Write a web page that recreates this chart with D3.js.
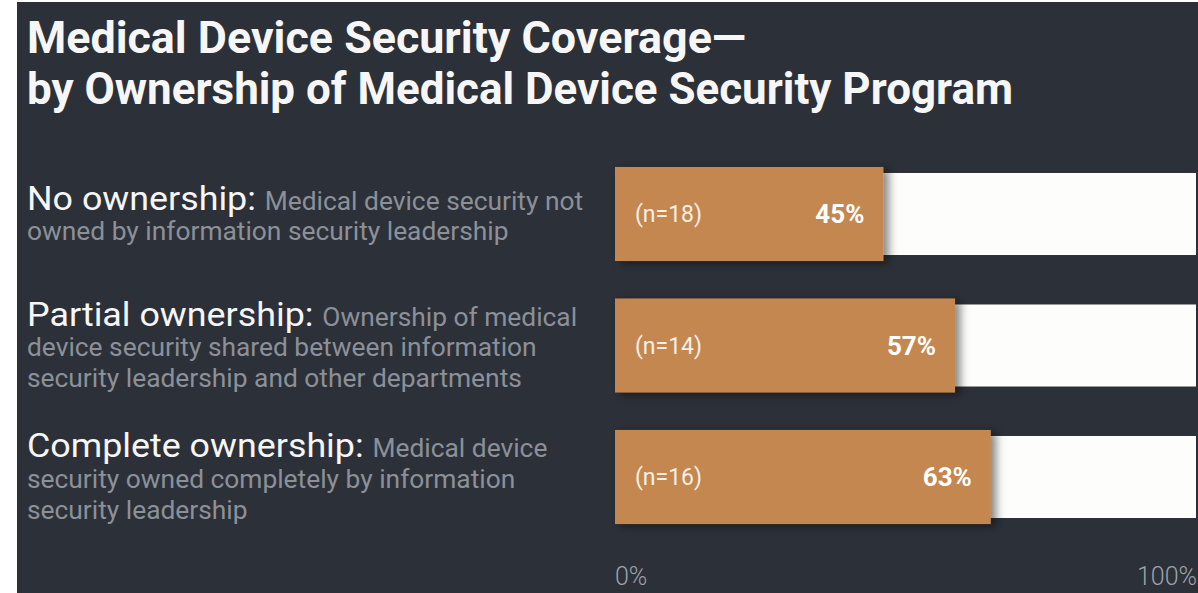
<!DOCTYPE html>
<html>
<head>
<meta charset="utf-8">
<script src="https://cdn.jsdelivr.net/npm/d3@7"></script>
<style>
  html, body { margin: 0; padding: 0; background: #ffffff; }
  svg { display: block; }
</style>
</head>
<body>
<svg id="chart" width="1198" height="593"></svg>
<script>
// Chart content
const titleLines = [
  "Medical Device Security Coverage\u2014",
  "by Ownership of Medical Device Security Program"
];
const categories = ["No ownership:", "Partial ownership:", "Complete ownership:"];
const descriptions = [
  ["Medical device security not", "owned by information security leadership"],
  ["Ownership of medical", "device security shared between information", "security leadership and other departments"],
  ["Medical device", "security owned completely by information", "security leadership"]
];
const coverage = [45, 57, 63];        // percent of devices covered
const sampleSizes = [18, 14, 16];     // respondents per group
const tickLabels = ["0%", "100%"];

const W = 1198, H = 593;
const svg = d3.select("#chart");

const C = {
  bg: "#2c3038",
  bar: "#c4874f",
  track: "#fdfdfc",
  white: "#f6f6f6",
  grey: "#8b9099",
  axis: "#9da2a9",
  barText: "#f7efe6"
};

// Dark panel
svg.append("rect").attr("x", 17).attr("y", 2).attr("width", W - 17).attr("height", H - 2).attr("fill", C.bg);

// Drop shadow for raised bars
const defs = svg.append("defs");
const f = defs.append("filter").attr("id", "raise").attr("x", "-5%").attr("y", "-20%").attr("width", "120%").attr("height", "150%");
f.append("feDropShadow").attr("dx", 5).attr("dy", 2).attr("stdDeviation", 5)
  .attr("flood-color", "#000").attr("flood-opacity", 0.5);

// Title
const title = svg.append("g").attr("font-family", "Roboto, sans-serif").attr("font-weight", 700)
  .attr("font-size", 45).attr("fill", C.white);
const titleWidths = [719, 986];
titleLines.forEach((t, i) => {
  title.append("text").attr("x", 27).attr("y", 53 + i * 51)
    .attr("textLength", titleWidths[i]).attr("lengthAdjust", "spacingAndGlyphs")
    .text(t);
});

// Scales
const x = d3.scaleLinear().domain([0, 100]).range([615, 1211.5]);
const y = d3.scaleBand().domain(categories).range([148.25, 542.75]).paddingInner(0.285).paddingOuter(0.1425);
const trackEnd = W - 2;
const trackInset = 6;

const rows = categories.map((c, i) => ({ cat: c, desc: descriptions[i], v: coverage[i], n: sampleSizes[i] }));

// Tracks (full 0-100 background)
svg.append("g").selectAll("rect").data(rows).join("rect")
  .attr("x", x(0))
  .attr("y", d => y(d.cat) + trackInset)
  .attr("width", trackEnd - x(0))
  .attr("height", y.bandwidth() - 2 * trackInset)
  .attr("fill", C.track);

// Value bars
svg.append("g").selectAll("rect").data(rows).join("rect")
  .attr("x", x(0))
  .attr("y", d => y(d.cat))
  .attr("width", d => x(d.v) - x(0))
  .attr("height", y.bandwidth())
  .attr("fill", C.bar)
  .attr("filter", "url(#raise)");

// In-bar labels
const inBar = svg.append("g").attr("font-family", "Roboto, sans-serif").attr("fill", C.barText);
inBar.selectAll("text.n").data(rows).join("text").attr("class", "n")
  .attr("x", x(0) + 20)
  .attr("y", d => y(d.cat) + y.bandwidth() / 2)
  .attr("dy", "0.35em")
  .attr("font-size", 23)
  .text(d => `(n=${d.n})`);
inBar.selectAll("text.v").data(rows).join("text").attr("class", "v")
  .attr("x", d => x(d.v) - 19)
  .attr("y", d => y(d.cat) + y.bandwidth() / 2)
  .attr("dy", "0.35em")
  .attr("text-anchor", "end")
  .attr("font-size", 26)
  .attr("font-weight", 700)
  .attr("fill", "#ffffff")
  .text(d => `${d.v}%`);

// Category labels with descriptions (slightly widened type)
const lineGap = 30.7;
const labX = 27;
const lab = svg.append("g").attr("font-family", "Roboto, sans-serif")
  .attr("transform", `translate(${labX},0) scale(1.054,1)`);
rows.forEach(d => {
  const cy = y(d.cat) + y.bandwidth() / 2;
  const nLines = d.desc.length;
  d.desc.forEach((line, j) => {
    const t = lab.append("text")
      .attr("x", 0)
      .attr("y", cy + (j - (nLines - 1) / 2) * lineGap + 11);
    if (j === 0) {
      t.append("tspan").attr("font-size", 34).attr("fill", C.white).text(d.cat + " ");
    }
    t.append("tspan").attr("font-size", 25).attr("fill", C.grey).text(line);
  });
});

// Axis end labels
const axisG = svg.append("g").attr("font-family", "Roboto, sans-serif").attr("font-weight", 300)
  .attr("font-size", 25).attr("fill", C.axis);
axisG.append("text").attr("x", x(0)).attr("y", 585).text(tickLabels[0]);
axisG.append("text").attr("x", trackEnd + 1).attr("y", 585).attr("text-anchor", "end").text(tickLabels[1]);
</script>
</body>
</html>
